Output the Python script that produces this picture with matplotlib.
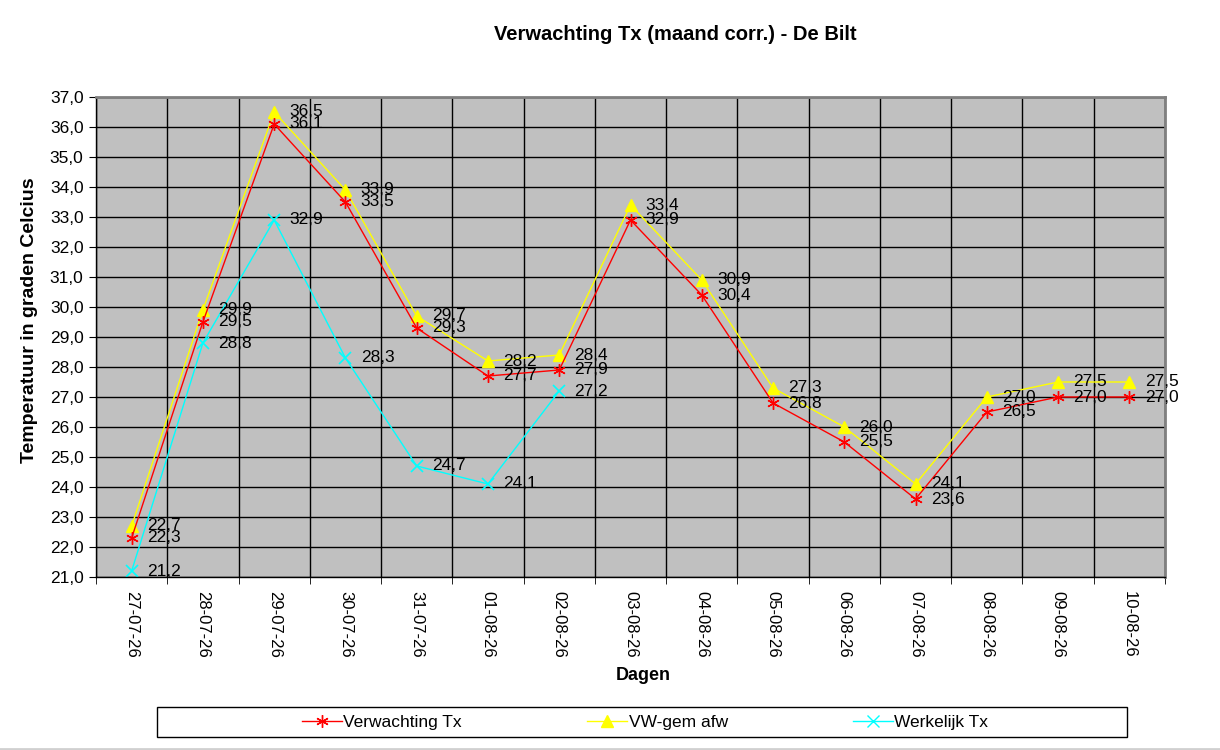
import numpy as np
import matplotlib.pyplot as plt
from matplotlib.lines import Line2D
from matplotlib.patches import Rectangle

plt.rcParams['font.family'] = ['Liberation Sans', 'DejaVu Sans']

# --- data ------------------------------------------------------------
dagen = ['27-07-26', '28-07-26', '29-07-26', '30-07-26', '31-07-26',
         '01-08-26', '02-08-26', '03-08-26', '04-08-26', '05-08-26',
         '06-08-26', '07-08-26', '08-08-26', '09-08-26', '10-08-26']
verwachting = [22.3, 29.5, 36.1, 33.5, 29.3, 27.7, 27.9, 32.9, 30.4,
               26.8, 25.5, 23.6, 26.5, 27.0, 27.0]
vw_gem = [22.7, 29.9, 36.5, 33.9, 29.7, 28.2, 28.4, 33.4, 30.9,
          27.3, 26.0, 24.1, 27.0, 27.5, 27.5]
werkelijk = [21.2, 28.8, 32.9, 28.3, 24.7, 24.1, 27.2]

FS = 12.5


def fmt(v):
    return f'{v:.1f}'.replace('.', ',')


fig = plt.figure(figsize=(12.2, 7.5), dpi=100)
ax = fig.add_axes([96 / 1220, 1 - 577 / 750, (1165 - 96) / 1220, (577 - 97) / 750])
ax.set_facecolor('#c0c0c0')

x = np.arange(len(dagen))
xw = np.arange(len(werkelijk))

ax.plot(x, verwachting, color='red', lw=1, marker=(6, 2, 0), ms=9, mew=1, zorder=4)
ax.plot(x, vw_gem, color='yellow', lw=1, marker='^', ms=8, zorder=3)
ax.plot(xw, werkelijk, color='cyan', lw=1, marker='x', ms=8, mew=1.2, zorder=2)

# data labels
for series, xs in ((verwachting, x), (vw_gem, x), (werkelijk, xw)):
    for xi, v in zip(xs, series):
        ax.annotate(fmt(v), (xi, v), xytext=(11, 0), textcoords='offset points',
                    va='center', ha='left', fontsize=FS, zorder=6)

ax.set_xlim(-0.5, len(dagen) - 0.5)
ax.set_ylim(21, 37)
ax.set_yticks(np.arange(21, 38, 1))
ax.set_yticklabels([fmt(v) for v in np.arange(21, 38, 1)], fontsize=FS)
ax.set_xticks(x)
ax.set_xticklabels(dagen, rotation=270, fontsize=12)
ax.set_xticks(np.arange(-0.5, len(dagen), 1), minor=True)
ax.tick_params(axis='x', which='major', length=0, pad=10)
ax.tick_params(axis='x', which='minor', length=5, direction='out')
ax.tick_params(axis='y', length=5, direction='out', pad=4)

ax.grid(True, axis='y', which='major', color='black', lw=1)
ax.grid(True, axis='x', which='minor', color='black', lw=1)
ax.set_axisbelow(True)

for side in ('top', 'right'):
    ax.spines[side].set_color('#808080')
    ax.spines[side].set_linewidth(2)
for side in ('left', 'bottom'):
    ax.spines[side].set_color('black')
    ax.spines[side].set_linewidth(1)

fig.text(675 / 1220, 1 - 35 / 750, 'Verwachting Tx (maand corr.) - De Bilt',
         ha='center', va='center', fontsize=14.5, fontweight='bold')
fig.text(643 / 1220, 1 - 676 / 750, 'Dagen', ha='center', va='center',
         fontsize=13, fontweight='bold')
fig.text(30 / 1220, 1 - 320 / 750, 'Temperatuur in graden Celcius', ha='center',
         va='center', rotation=90, fontsize=14, fontweight='bold')

# legend box
fig.add_artist(Rectangle((157 / 1220, 1 - 737 / 750), (1127 - 157) / 1220, 30 / 750,
                         transform=fig.transFigure, facecolor='white',
                         edgecolor='black', lw=1))
handles = [
    Line2D([], [], color='red', lw=1, marker=(6, 2, 0), ms=9),
    Line2D([], [], color='yellow', lw=1, marker='^', ms=8),
    Line2D([], [], color='cyan', lw=1, marker='x', ms=8),
]
leg = fig.legend(handles, ['Verwachting Tx', 'VW-gem afw', 'Werkelijk Tx'],
                 loc='center left', bbox_to_anchor=(293 / 1220, 1 - 722 / 750),
                 ncol=3, fontsize=FS, frameon=False, columnspacing=7.2,
                 handlelength=2.3, handletextpad=0.1, borderpad=0.0)

fig.add_artist(Line2D([0, 1], [0.002, 0.002], color='#d0d0d0', lw=2,
                      transform=fig.transFigure))

fig.savefig('out.png', dpi=100)
